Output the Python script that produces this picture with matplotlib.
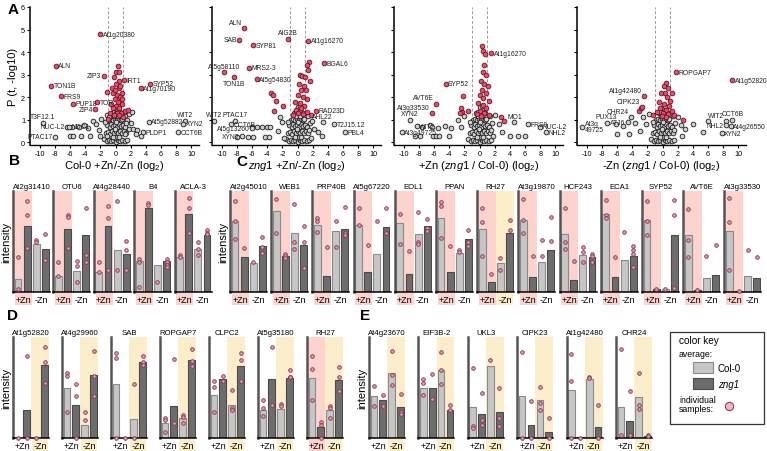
import matplotlib
matplotlib.use("Agg")
import matplotlib.pyplot as plt
import matplotlib.transforms as mtrans
from matplotlib.patches import Rectangle

plt.rcParams['font.family'] = ['Liberation Sans', 'DejaVu Sans']
plt.rcParams['mathtext.fontset'] = 'custom'
plt.rcParams['mathtext.rm'] = 'Liberation Sans'
plt.rcParams['mathtext.it'] = 'Liberation Sans:italic'

# ---------------- panel A data (volcano plots) ----------------
volcano_xlabels = [r'Col-0 +Zn/-Zn (log$_2$)',
                   r'$\mathit{zng1}$ +Zn/-Zn (log$_2$)',
                   r'+Zn ($\mathit{zng1}$ / Col-0) (log$_2$)',
                   r'-Zn ($\mathit{zng1}$ / Col-0) (log$_2$)']

# dense centre of every volcano (unchanged proteins), x = log2 ratio, y = -log10 p
core_pts = [(-1.5, 0.15), (-1.2, 0.05), (-0.9, 0.12), (-0.6, 0.04), (-0.3, 0.1), (0.0, 0.03), (0.3, 0.12),
            (0.6, 0.05), (0.9, 0.1), (1.2, 0.04), (1.5, 0.12), (-1.3, 0.4), (-1.0, 0.45), (-0.7, 0.38),
            (-0.45, 0.5), (-0.2, 0.42), (0.05, 0.48), (0.3, 0.4), (0.55, 0.5), (0.8, 0.42), (1.05, 0.48),
            (1.35, 0.4), (-1.1, 0.75), (-0.8, 0.7), (-0.55, 0.8), (-0.3, 0.72), (-0.05, 0.78), (0.2, 0.7),
            (0.45, 0.8), (0.7, 0.72), (0.95, 0.78), (1.2, 0.7), (-0.9, 1.0), (-0.6, 1.05), (-0.35, 0.98),
            (-0.1, 1.05), (0.15, 0.98), (0.4, 1.05), (0.65, 0.98), (0.9, 1.02), (-0.5, 1.3), (-0.2, 1.35),
            (0.1, 1.28), (0.4, 1.35), (0.7, 1.3), (-0.15, 0.2), (0.15, 0.25), (-0.4, 0.25), (0.45, 0.25),
            (-0.1, 0.6), (0.1, 0.88), (-0.2, 1.18), (0.25, 1.15), (0.0, 1.55), (0.3, 1.6)]

# scattered background proteins
grey_pts = [
    [(-1.2, 1.2), (-0.9, 1.1), (1.2, 1.15), (1.5, 1.0), (-1.4, 0.9), (1.4, 0.85), (1.7, 0.6),
     (-1.1, 0.3), (1.2, 0.35), (-5.7, 0.7), (-4.9, 0.68), (-4.2, 0.75), (-3.6, 0.62), (-3.0, 0.95),
     (-2.6, 0.8), (-2.2, 0.55), (-1.9, 1.05), (-2.0, 0.3), (-3.4, 0.3), (-6.0, 0.3), (-5.6, 0.3),
     (-4.6, 0.3), (2.0, 0.85), (2.3, 0.6), (2.8, 0.55), (2.7, 0.35), (3.4, 0.3), (1.8, 1.25), (2.2, 1.35)],
    [(-1.3, 0.9), (1.6, 0.85), (1.5, 0.55), (1.4, 1.15), (-6.0, 0.66), (-5.3, 0.66), (-4.7, 0.66),
     (-4.0, 0.66), (-3.6, 0.66), (-8.0, 0.25), (-6.5, 0.25), (-5.9, 0.25), (-4.3, 0.25), (-3.8, 0.25),
     (-2.6, 0.5), (-2.0, 0.9), (-2.3, 1.1), (1.9, 0.95), (2.2, 0.6), (2.7, 0.45), (3.2, 0.3), (-1.8, 0.2),
     (1.8, 0.2)],
    [(-1.3, 0.9), (1.6, 0.85), (1.5, 0.55), (1.4, 1.15), (-7.6, 0.7), (-6.6, 0.75), (-6.3, 0.7),
     (-5.5, 0.65), (-4.6, 0.72), (-3.8, 0.62), (-2.8, 1.0), (-2.4, 0.7), (-2.0, 1.15), (-8.5, 0.28),
     (-7.9, 0.28), (-6.2, 0.28), (-5.8, 0.28), (-5.4, 0.28), (-4.0, 0.28), (2.0, 1.2), (2.6, 0.8),
     (3.0, 0.45), (4.0, 0.28), (5.1, 0.28), (6.0, 0.28), (1.8, 0.3)],
    [(-1.3, 0.9), (1.6, 0.85), (1.5, 0.55), (1.4, 1.15), (-6.2, 0.8), (-5.2, 0.72), (-3.6, 0.85),
     (-2.6, 1.1), (-2.2, 0.8), (-1.8, 1.25), (-3.0, 0.5), (-4.4, 0.35), (-6.0, 0.35), (2.0, 1.1),
     (2.4, 0.75), (3.0, 0.6), (4.0, 0.8), (5.3, 0.45), (2.6, 0.3), (6.0, 0.95)]]

# significant proteins (red)
red_pts = [
    [(0.3, 3.4), (0.1, 3.1), (0.4, 3.1), (-0.2, 2.9), (0.5, 2.7), (0.0, 2.6), (-0.5, 2.4), (0.4, 2.4),
     (0.8, 2.2), (-0.3, 2.2), (0.2, 2.1), (0.6, 2.0), (-0.1, 1.9), (0.3, 1.8), (0.9, 1.7), (-0.6, 1.7),
     (0.1, 1.6), (0.5, 1.5), (-0.3, 1.5), (1.2, 1.4), (0.7, 1.3), (-0.8, 1.3), (0.2, 1.3), (-1.2, 2.25),
     (1.6, 1.45), (-1.0, 1.05), (1.0, 1.1), (0.4, 1.2), (-0.2, 1.2), (0.6, 2.5), (-0.1, 2.3), (0.8, 1.9)],
    [(1.5, 3.55), (1.2, 3.45), (1.4, 3.2), (0.3, 3.0), (0.6, 2.95), (1.0, 2.9), (1.6, 2.7), (0.2, 2.6),
     (0.8, 2.5), (1.1, 2.3), (0.4, 2.3), (0.0, 2.1), (0.7, 2.0), (1.3, 1.9), (-0.3, 1.8), (0.3, 1.75),
     (0.9, 1.6), (0.5, 1.5), (-0.2, 1.45), (1.2, 1.35), (0.1, 1.3), (0.7, 1.25), (-0.6, 1.2),
     (-3.5, 2.2), (-3.2, 2.1), (-2.9, 1.85), (-3.1, 1.4), (-1.9, 1.6), (1.8, 1.2)],
    [(0.3, 4.25), (0.5, 4.05), (0.7, 3.9), (0.6, 3.45), (0.4, 3.1), (0.8, 3.0), (0.2, 2.7), (0.6, 2.6),
     (1.1, 2.5), (0.3, 2.3), (0.9, 2.2), (0.0, 2.1), (0.5, 1.95), (1.2, 1.85), (-0.2, 1.75), (0.4, 1.65),
     (0.9, 1.5), (0.1, 1.4), (0.6, 1.3), (-0.4, 1.25), (1.3, 1.2), (0.2, 1.15),
     (-2.2, 2.05), (-2.5, 1.5), (-2.3, 1.35), (-2.6, 1.3), (-1.6, 1.4), (2.8, 1.1), (3.2, 0.95)],
    [(0.5, 2.65), (0.2, 2.5), (0.7, 2.4), (0.3, 2.2), (-0.2, 2.2), (1.3, 2.2), (0.6, 2.0), (-0.5, 1.8),
     (1.0, 1.85), (0.2, 1.7), (0.8, 1.6), (-0.3, 1.5), (0.4, 1.45), (1.2, 1.4), (-0.7, 1.35), (0.1, 1.3),
     (0.7, 1.25), (1.5, 1.2), (-0.1, 1.15), (0.5, 1.1), (-3.1, 1.4), (-2.9, 1.5), (-1.3, 1.2), (2.7, 1.0)]]

# labelled proteins: name, x, y, significant
labels = [
    [('At1g20380', -2.0, 4.8, 1), ('ALN', -7.9, 3.4, 1), ('ZIP3', -1.6, 2.95, 1), ('IRT1', 1.05, 2.75, 1),
     ('SYP52', 4.5, 2.6, 1), ('At1g70190', 3.3, 2.4, 1), ('TON1B', -8.5, 2.5, 1), ('FRS9', -7.2, 2.05, 1),
     ('PUP18', -5.6, 1.72, 1), ('TOR', -2.4, 1.77, 1), ('ZIP4', -2.7, 1.47, 1), ('T3F12.1', -9.6, 0.85, 0),
     ('NUC-L2', -6.4, 0.69, 0), ('NDC1', -6.1, 0.69, 0), ('PTAC17', -8.0, 0.25, 0), ('At5g52882', 4.4, 0.9, 0),
     ('WIT2', 9.2, 0.95, 0), ('XYN2', 8.9, 0.82, 0), ('PLDP1', 3.6, 0.45, 0), ('CCT6B', 8.2, 0.45, 0)],
    [('ALN', -7.1, 5.05, 1), ('SAB', -7.7, 4.55, 1), ('SYP81', -5.9, 4.3, 1), ('AIG2B', -1.3, 4.6, 1),
     ('At1g16270', 1.4, 4.5, 1), ('BGAL6', 3.5, 3.5, 1), ('At5g58110', -9.7, 3.1, 1), ('MRS2-3', -6.4, 3.3, 1),
     ('TON1B', -8.4, 2.9, 1), ('At5g54830', -5.4, 2.8, 1), ('RAD23D', 2.4, 1.4, 1), ('AHL22', 3.3, 0.88, 0),
     ('T2J15.12', 4.8, 0.8, 0), ('PBL4', 6.3, 0.45, 0), ('WIT2', -11.0, 0.95, 0), ('PTAC17', -8.2, 0.95, 0),
     ('CCT6B', -8.8, 0.8, 0), ('At5g13260', -6.0, 0.62, 0), ('XYN2', -7.4, 0.26, 0)],
    [('At1g16270', 1.5, 3.95, 1), ('SYP52', -4.5, 2.6, 1), ('AVT6E', -5.7, 1.72, 1), ('At3g33530', -6.3, 1.28, 1),
     ('XYN2', -9.2, 1.0, 0), ('WIT2', -8.3, 0.72, 0), ('At3g49725', -10.3, 0.45, 0), ('MO1', 4.6, 0.88, 0),
     ('FRS9', 6.4, 0.8, 0), ('NUC-L2', 8.0, 0.7, 0), ('NHL2', 8.8, 0.45, 0)],
    [('ROPGAP7', 1.75, 3.1, 1), ('At1g52820', 9.2, 2.75, 1), ('At1g42480', -2.5, 2.05, 1), ('CIPK23', -2.7, 1.55, 1),
     ('CHR24', -4.2, 1.1, 0), ('ATJ6', -4.6, 0.88, 0), ('PUX13', -7.4, 0.85, 0), ('At3g\n49725', -10.6, 0.7, 0),
     ('WIT2', 8.4, 0.95, 0), ('CCT6B', 9.2, 0.98, 0), ('NHL2', 8.3, 0.75, 0), ('At4g26550', 9.0, 0.72, 0),
     ('XYN2', 7.8, 0.4, 0)]]
# where each label sits relative to its point
label_side = [
    ['r', 'r', 'l', 'r', 'r', 'r', 'r', 'r', 'r', 'r', 'l', 'u', 'l', 'r', 'l', 'r', 'u', 'r', 'r', 'r'],
    ['ul', 'l', 'r', 'u', 'r', 'r', 'u', 'r', 'd', 'r', 'r', 'u', 'r', 'r', 'u', 'u', 'r', 'l', 'l'],
    ['r', 'r', 'ul', 'ul', 'u', 'r', 'r', 'u', 'r', 'r', 'r'],
    ['r', 'r', 'ul', 'ul', 'ul', 'l', 'u', 'r', 'ul', 'u', 'l', 'r', 'r']]

# ---------------- bar panels B-E data (relative intensity) ----------------
# bars order: Col-0 +Zn, zng1 +Zn, Col-0 -Zn, zng1 -Zn
B_genes = ['At2g31410', 'OTU6', 'At4g28440', 'B4', 'ACLA-3']
B_bars = [[0.13, 0.67, 0.48, 0.43], [0.16, 0.64, 0.21, 0.58], [0.2, 0.67, 0.42, 0.38],
          [0.31, 0.85, 0.27, 0.31], [0.35, 0.79, 0.43, 0.58]]
B_pts = [[[0.35, 0.03], [0.92, 0.78, 0.44], [0.53, 0.5], [0.59, 0.32]],
         [[0.3, 0.16], [0.78, 0.76, 0.44], [0.31, 0.26, 0.1], [0.85, 0.37, 0.3]],
         [[0.3, 0.2], [0.87, 0.75, 0.22], [0.92, 0.22], [0.52, 0.42, 0.22]],
         [[0.33, 0.3, 0.05], [0.9, 0.88], [0.1], [0.33, 0.3, 0.27, 0.25]],
         [[0.37, 0.35], [0.95, 0.85, 0.6], [0.51, 0.43, 0.37], [0.63, 0.6, 0.59]]]

C_genes = ['At2g45010', 'WEB1', 'PRP40B', 'At5g67220', 'EOL1', 'PPAN', 'RH27', 'At3g19870',
           'HCF243', 'ECA1', 'SYP52', 'AVT6E', 'At3g33530']
C_bars = [[0.72, 0.35, 0.29, 0.46], [0.82, 0.36, 0.6, 0.47], [0.68, 0.16, 0.62, 0.64],
          [0.68, 0.2, 0.38, 0.66], [0.7, 0.18, 0.59, 0.67], [0.75, 0.2, 0.39, 0.54],
          [0.64, 0.1, 0.29, 0.6], [0.73, 0.15, 0.3, 0.42], [0.59, 0.12, 0.37, 0.35],
          [0.79, 0.15, 0.32, 0.36], [0.73, 0.03, 0.03, 0.58], [0.58, 0.02, 0.14, 0.17],
          [0.62, 0.01, 0.16, 0.14]]
C_pts = [[[0.92, 0.72, 0.54], [0.44], [0.3], [0.56, 0.45, 0.39]],
         [[0.94, 0.6], [0.38, 0.36, 0.34], [0.89, 0.5, 0.43], [0.67, 0.5, 0.24]],
         [[0.75, 0.72, 0.61], [0.45], [0.72, 0.45], [0.86, 0.6, 0.58]],
         [[0.85, 0.68], [0.47], [0.72], [0.85, 0.6, 0.6]],
         [[0.79, 0.48], [0.41], [0.81, 0.5, 0.48], [0.74, 0.65, 0.62]],
         [[0.91, 0.87, 0.55], [0.46], [0.42, 0.4], [0.63, 0.5, 0.46]],
         [[0.85, 0.71, 0.36], [0.18], [0.34, 0.22], [0.73, 0.63]],
         [[0.94, 0.73, 0.6], [0.36], [0.53, 0.36], [0.76, 0.52]],
         [[0.85, 0.5, 0.43], [0.31], [0.45, 0.4, 0.3], [0.38, 0.36, 0.3]],
         [[0.93, 0.78, 0.75], [0.35], [0.61], [0.46, 0.42, 0.38, 0.25]],
         [[0.92, 0.72, 0.58], [0.03], [0.03], [0.93, 0.78, 0.04]],
         [[0.84, 0.53, 0.35], [0.02], [0.36], [0.47]],
         [[0.95, 0.71, 0.22], [0.01], [0.42], [0.35]]]

D_genes = ['At1g52820', 'At4g29960', 'SAB', 'ROPGAP7', 'CLPC2', 'At5g35180', 'RH27']
D_bars = [[0.0, 0.28, 0.0, 0.74], [0.5, 0.33, 0.13, 0.64], [0.55, 0.0, 0.19, 0.77],
          [0.15, 0.32, 0.2, 0.79], [0.43, 0.6, 0.33, 0.73], [0.28, 0.6, 0.29, 0.61],
          [0.61, 0.11, 0.28, 0.59]]
D_pts = [[[0.0], [0.83, 0.0], [0.0], [0.92, 0.77, 0.56]],
         [[0.66, 0.63, 0.26], [0.55, 0.42, 0.0], [0.26, 0.18], [0.88, 0.63, 0.42]],
         [[0.86, 0.81, 0.0], [0.0], [0.55, 0.0], [0.83, 0.77, 0.74]],
         [[0.2, 0.18, 0.06], [0.8, 0.15], [0.23, 0.21, 0.15], [0.9, 0.78, 0.73]],
         [[0.58, 0.52, 0.26], [0.63, 0.58], [0.48, 0.3, 0.28], [0.86, 0.79, 0.58]],
         [[0.38, 0.3, 0.22], [0.92, 0.33], [0.34, 0.32], [0.69, 0.62, 0.62]],
         [[0.83, 0.7, 0.38], [0.16, 0.13, 0.0], [0.32, 0.3, 0.2], [0.72, 0.62, 0.47]]]

E_genes = ['At4g23670', 'EIF3B-2', 'UKL3', 'CIPK23', 'At1g42480', 'CHR24']
E_bars = [[0.42, 0.38, 0.66, 0.31], [0.51, 0.51, 0.69, 0.28], [0.31, 0.24, 0.73, 0.26],
          [0.42, 0.13, 0.38, 0.06], [0.48, 0.01, 0.6, 0.11], [0.31, 0.17, 0.41, 0.02]]
E_pts = [[[0.53, 0.32], [0.43, 0.32], [0.88, 0.64, 0.54], [0.44, 0.26, 0.24]],
         [[0.6, 0.56, 0.43], [0.65, 0.39], [0.87, 0.69, 0.55], [0.33, 0.28]],
         [[0.71, 0.12, 0.1], [0.45, 0.18, 0.13], [0.79], [0.51, 0.2, 0.12]],
         [[0.87, 0.0], [0.37, 0.0], [0.52, 0.35, 0.28], [0.2, 0.0]],
         [[0.85, 0.58, 0.0], [0.0], [0.62, 0.61], [0.33, 0.0]],
         [[0.9, 0.03], [0.47, 0.03], [0.66, 0.33, 0.29], [0.03, 0.02]]]

# ---------------- style ----------------
PINK = '#fdd3cd'
YELLOW = '#fdeecb'
LIGHT = '#c6c6c6'
DARK = '#6d6d6d'
PT_FACE = '#e19bb0'
PT_EDGE = '#86324f'
RED_FACE = '#e1506c'
RED_EDGE = '#6b1020'
GREY_FACE = '#cfcfcf'
GREY_EDGE = '#1a1a1a'

W, H = 767, 452
fig = plt.figure(figsize=(W / 100, H / 100), dpi=100)


def rect(x0, y0, w, h):
    return [x0 / W, 1 - (y0 + h) / H, w / W, h / H]


# ---------------- A ----------------
vol_left = [30, 212, 394, 577]
for k in range(4):
    ax = fig.add_axes(rect(vol_left[k], 8, 169, 138))
    ax.set_xlim(-11.3, 11.0)
    ax.set_ylim(-0.12, 6.0)
    pts = core_pts + grey_pts[k]
    ax.plot([p[0] for p in pts], [p[1] for p in pts], 'o', ms=3.4,
            mfc=GREY_FACE, mec=GREY_EDGE, mew=0.6, zorder=2)
    ax.plot([p[0] for p in red_pts[k]], [p[1] for p in red_pts[k]], 'o', ms=3.4,
            mfc=RED_FACE, mec=RED_EDGE, mew=0.6, zorder=3)
    for (name, x, y, sig), side in zip(labels[k], label_side[k]):
        if sig:
            ax.plot(x, y, 'o', ms=3.4, mfc=RED_FACE, mec=RED_EDGE, mew=0.6, zorder=3)
        else:
            ax.plot(x, y, 'o', ms=3.4, mfc=GREY_FACE, mec=GREY_EDGE, mew=0.6, zorder=2)
        if side == 'r':
            off, ha, va = (1.8, 0), 'left', 'center'
        elif side == 'l':
            off, ha, va = (-1.8, 0), 'right', 'center'
        elif side == 'u':
            off, ha, va = (0, 2), 'center', 'bottom'
        elif side == 'd':
            off, ha, va = (0, -2), 'center', 'top'
        else:
            off, ha, va = (-1.5, 1.5), 'right', 'bottom'
        ax.annotate(name, (x, y), xytext=off, textcoords='offset points', ha=ha, va=va,
                    fontsize=4.9, color='#222222', linespacing=0.9, annotation_clip=False, zorder=4)
    ax.axvline(-1, color='#9a9a9a', lw=0.7, ls=(0, (3, 2)), zorder=1)
    ax.axvline(1, color='#9a9a9a', lw=0.7, ls=(0, (3, 2)), zorder=1)
    for s in ['top', 'right']:
        ax.spines[s].set_visible(False)
    ax.spines['left'].set_linewidth(1.1)
    ax.spines['bottom'].set_linewidth(1.0)
    ax.set_xticks(range(-10, 11, 2))
    ax.set_yticks(range(0, 7))
    ax.tick_params(labelsize=5.2, length=2.5, width=0.8, pad=1)
    ax.set_xticklabels(['-10', '-8', '-6', '-4', '-2', '0', '2', '4', '6', '8', '10'])
    if k == 0:
        ax.set_ylabel('P (t, -log10)', fontsize=8, labelpad=2)
    else:
        ax.set_yticklabels([])
    ax.set_xlabel(volcano_xlabels[k], fontsize=8, labelpad=1)


# ---------------- bar panels ----------------
def bar_panel(x0, y0, w, h, title, bars, pts, plus_shade, minus_shade, ylabel):
    ax = fig.add_axes(rect(x0, y0, w, h))
    ax.set_xlim(-0.55, 3.5)
    ax.set_ylim(0, 1.02)
    tr = mtrans.blended_transform_factory(ax.transData, ax.transAxes)
    if plus_shade:
        ax.axvspan(-0.55, 1.5, color=PINK, lw=0, zorder=0)
        ax.add_patch(Rectangle((-0.35, -0.13), 1.85, 0.12, transform=tr, color=PINK, lw=0, clip_on=False))
    if minus_shade:
        ax.axvspan(1.5, 3.5, color=YELLOW, lw=0, zorder=0)
        ax.add_patch(Rectangle((1.55, -0.13), 1.85, 0.12, transform=tr, color=YELLOW, lw=0, clip_on=False))
    cols = [LIGHT, DARK, LIGHT, DARK]
    edges = ['#8a8a8a', '#4a4a4a', '#8a8a8a', '#4a4a4a']
    ax.bar(range(4), bars, width=0.75, color=cols, edgecolor=edges, lw=0.8, zorder=2)
    for i in range(4):
        ax.plot([i] * len(pts[i]), pts[i], 'o', ms=2.6, mfc=PT_FACE, mec=PT_EDGE, mew=0.6,
                zorder=3, clip_on=False)
    ax.text(0.55, -0.07, '+Zn', transform=tr, ha='center', va='center', fontsize=6.5)
    ax.text(2.5, -0.07, '-Zn', transform=tr, ha='center', va='center', fontsize=6.5)
    ax.set_xticks([])
    ax.set_yticks([])
    for s in ['top', 'right']:
        ax.spines[s].set_visible(False)
    ax.spines['left'].set_linewidth(1.8)
    ax.spines['left'].set_color('#555555')
    ax.spines['bottom'].set_linewidth(1.1)
    ax.set_title(title, fontsize=5.6, pad=2.5)
    if ylabel:
        ax.set_ylabel('intensity', fontsize=8, labelpad=1.5)
    return ax


for i, g in enumerate(B_genes):
    bar_panel(13 + i * 40.4, 192, 37, 101, g, B_bars[i], B_pts[i], True, False, i == 0)
for i, g in enumerate(C_genes):
    bar_panel(230 + i * 41.2, 192, 37, 101, g, C_bars[i], C_pts[i], True, g == 'RH27', i == 0)
for i, g in enumerate(D_genes):
    bar_panel(13 + i * 49, 338, 36, 101, g, D_bars[i], D_pts[i], g == 'RH27', True, i == 0)
for i, g in enumerate(E_genes):
    bar_panel(369 + i * 49.4, 338, 36, 101, g, E_bars[i], E_pts[i], False, True, i == 0)

# ---------------- overlay: panel letters and colour key ----------------
ov = fig.add_axes([0, 0, 1, 1])
ov.set_xlim(0, W)
ov.set_ylim(H, 0)
ov.axis('off')
for letter, x, y in [('A', 8, 10), ('B', 9, 161), ('C', 236, 162), ('D', 7, 316), ('E', 360, 316)]:
    ov.text(x, y, letter, fontsize=11, fontweight='bold', va='center', ha='left')

ov.add_patch(Rectangle((670, 333), 94, 92, fill=False, ec='#333333', lw=0.9))
ov.text(679, 341, 'color key', fontsize=7.2, va='center')
ov.text(679, 355, 'average:', fontsize=6.3, va='center')
ov.add_patch(Rectangle((693, 363), 20, 11, fc=LIGHT, ec='#8a8a8a', lw=0.8))
ov.text(718, 369, 'Col-0', fontsize=7, va='center')
ov.add_patch(Rectangle((693, 379), 20, 11, fc=DARK, ec='#4a4a4a', lw=0.8))
ov.text(718, 385, 'zng1', fontsize=7, va='center', style='italic')
ov.text(679, 405, 'individual\nsamples:', fontsize=6.3, va='center', linespacing=1.0)
ov.plot(729, 407, 'o', ms=6, mfc='#f6b3c1', mec='#86324f', mew=0.7)

fig.savefig('out.png', dpi=100)
